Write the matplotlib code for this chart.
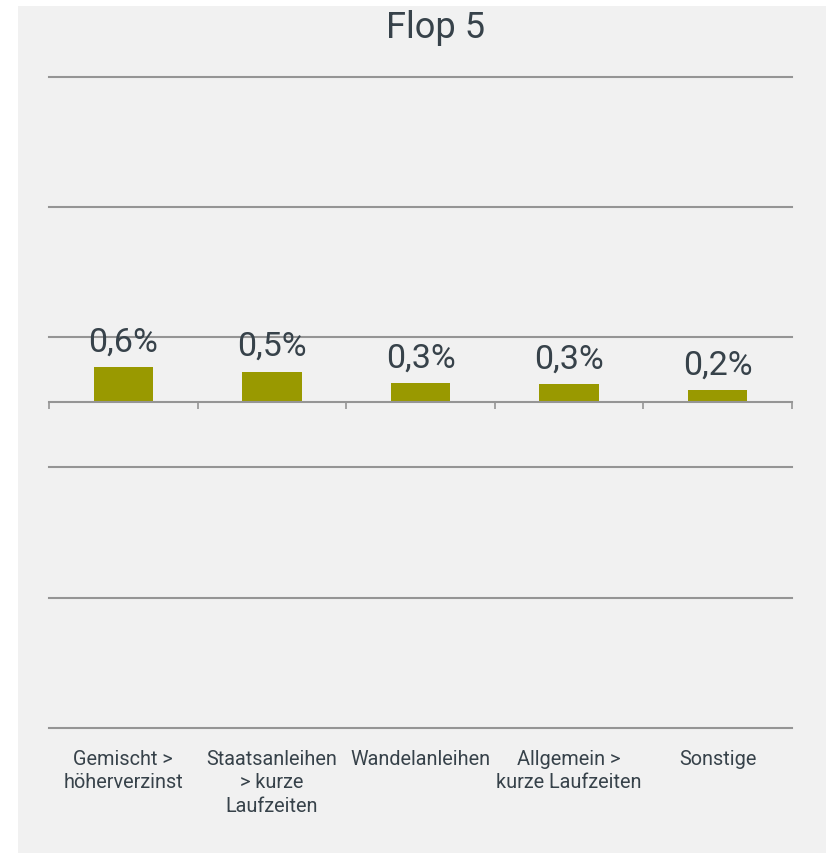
import matplotlib.pyplot as plt
import numpy as np

categories = ['Gemischt >\nhöherverzinst', 'Staatsanleihen\n> kurze\nLaufzeiten', 'Wandelanleihen',
              'Allgemein >\nkurze Laufzeiten', 'Sonstige']
values = [0.60, 0.52, 0.32, 0.31, 0.21]
grid_levels = [-5.5, -3.3, -1.1, 1.1, 3.3, 5.5]

bar_color = '#999900'
text_color = '#37424a'
line_color = '#959595'
bg_color = '#f1f1f1'

plt.rcParams['font.family'] = ['Roboto', 'DejaVu Sans']

fig = plt.figure(figsize=(8.26, 8.54), dpi=100)
fig.patch.set_facecolor('white')
# grey panel behind the chart
fig.add_artist(plt.Rectangle((18 / 826, 0), 1, 1 - 7 / 854, transform=fig.transFigure,
                             facecolor=bg_color, edgecolor='none', zorder=0))

ax = fig.add_axes([49 / 826, 1 - 729 / 854, (792 - 49) / 826, (729 - 77.7) / 854])
ax.set_facecolor('none')

x = np.arange(len(categories))
ax.bar(x, values, width=0.4, color=bar_color, zorder=3)

for lvl in grid_levels:
    ax.axhline(lvl, color=line_color, lw=1.5, zorder=1, clip_on=False)

ax.set_xlim(-0.5, len(categories) - 0.5)
ax.set_ylim(-5.5, 5.5)

for s in ['top', 'right', 'left']:
    ax.spines[s].set_visible(False)
ax.spines['bottom'].set_position(('data', 0))
ax.spines['bottom'].set_color(line_color)
ax.spines['bottom'].set_linewidth(1.5)
ax.spines['bottom'].set_zorder(4)
ax.set_yticks([])
ax.set_xticks(np.arange(len(categories) + 1) - 0.5)
ax.set_xticklabels([])
ax.tick_params(axis='x', direction='out', length=5, width=1.2, color=line_color)

for xi, v in zip(x, values):
    ax.annotate(f'{v:.1f}%'.replace('.', ','), (xi, v), xytext=(0, 12), textcoords='offset points',
                ha='center', va='baseline', fontsize=24.5, color=text_color)

for xi, lab in zip(x, categories):
    ax.annotate(lab, (xi, -5.5), xytext=(0, -15), textcoords='offset points',
                ha='center', va='top', fontsize=14.3, color=text_color, linespacing=1.3)

fig.text(436 / 826, 1 - 38 / 854, 'Flop 5', ha='center', va='baseline', fontsize=26, color=text_color)

fig.savefig('out.png', dpi=100)
